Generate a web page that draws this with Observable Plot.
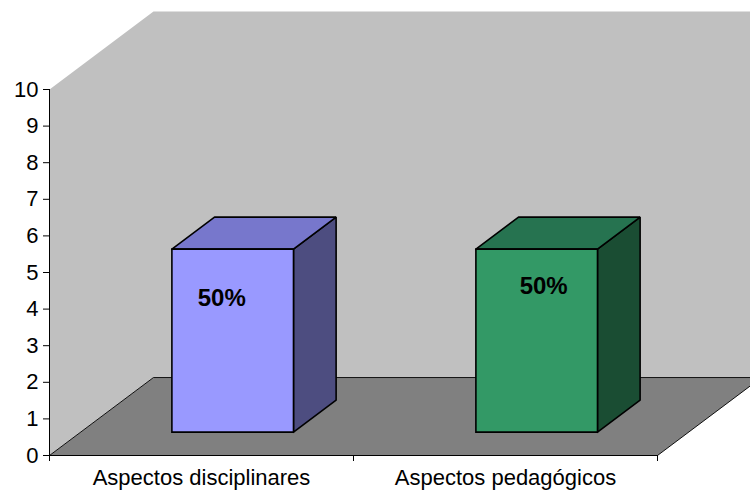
<!DOCTYPE html>
<html>
<head>
<meta charset="utf-8">
<script src="https://cdn.jsdelivr.net/npm/d3@7"></script>
<script src="https://cdn.jsdelivr.net/npm/@observablehq/plot@0.6"></script>
<style>
  html, body { margin: 0; padding: 0; background: #fff; }
  #chart svg { display: block; }
</style>
</head>
<body>
<div id="chart"></div>
<script>
// Chart data
const categories = ["Aspectos disciplinares", "Aspectos pedagógicos"];
const values = [5, 5];
const valueLabels = ["50%", "50%"];
const yTicks = [0, 1, 2, 3, 4, 5, 6, 7, 8, 9, 10];

// Colours of the walls, floor and the three visible faces of each box
const colors = {
  wall: "#c0c0c0",
  floor: "#808080",
  front: ["#9999ff", "#339966"],
  top: ["#7777cc", "#267350"],
  side: ["#4d4d80", "#1a4d33"]
};

// Oblique projection: moving through the full depth of the plot box
// shifts a point right by depthX (x units) and up by depthY (y units)
const depthX = 0.342;
const depthY = 2.13;
const barHalf = 0.2;            // half width of a box, in category units
const barZ0 = 0.3, barZ1 = 0.71; // front and back of the boxes, as depth fractions
const labelNudge = [{dx: -0.036, fy: 0.73}, {dx: 0.023, fy: 0.796}];
const font = '"Liberation Sans", Arial, sans-serif';

const n = categories.length;
const yTop = yTicks[yTicks.length - 1];

const proj = ([x, y, z]) => ({x: x + z * depthX, y: y + z * depthY});
const face = (pts, fill, stroke = "none", strokeWidth = 1) => {
  const p = pts.map(proj);
  p.push(p[0]);
  return Plot.line(p, {
    x: "x", y: "y", fill, stroke, strokeWidth,
    strokeLinejoin: "miter", strokeLinecap: "square", curve: "linear"
  });
};

// Side wall and back wall as one outline, then the floor
const walls = [
  face([[0, 0, 0], [0, yTop, 0], [0, yTop, 1], [n, yTop, 1], [n, 0, 1], [0, 0, 1]], colors.wall),
  face([[0, 0, 0], [n, 0, 0], [n, 0, 1], [0, 0, 1]], colors.floor, "#000", 0.9)
];

// One box per category: side, top, then front face
const boxes = values.flatMap((v, i) => {
  const x0 = i + 0.5 - barHalf, x1 = i + 0.5 + barHalf;
  return [
    face([[x1, 0, barZ0], [x1, 0, barZ1], [x1, v, barZ1], [x1, v, barZ0]], colors.side[i], "#000", 1.6),
    face([[x0, v, barZ0], [x1, v, barZ0], [x1, v, barZ1], [x0, v, barZ1]], colors.top[i], "#000", 1.6),
    face([[x0, 0, barZ0], [x1, 0, barZ0], [x1, v, barZ0], [x0, v, barZ0]], colors.front[i], "#000", 1.6)
  ];
});

const labelData = values.map((v, i) => ({
  x: i + 0.5 + labelNudge[i].dx + barZ0 * depthX,
  y: v * labelNudge[i].fy + barZ0 * depthY,
  text: valueLabels[i]
}));

const chart = Plot.plot({
  width: 750,
  height: 491,
  marginLeft: 49,
  marginRight: 93,
  marginTop: 89,
  marginBottom: 36,
  x: {type: "linear", domain: [0, n]},
  y: {type: "linear", domain: [0, yTop]},
  style: {fontFamily: font, fontSize: "22px", color: "#000", background: "#fff", overflow: "hidden"},
  marks: [
    ...walls,
    ...boxes,
    Plot.ruleX([0], {y1: 0, y2: yTop, stroke: "#000", strokeWidth: 1}),
    Plot.ruleY([0], {x1: 0, x2: n, stroke: "#000", strokeWidth: 1}),
    Plot.axisY(yTicks, {
      tickSize: 6, tickPadding: 5, fontSize: 22, label: null,
      tickFormat: d => String(d), stroke: "#000", fill: "#000"
    }),
    Plot.axisX(d3.range(n + 1), {
      tickSize: 6, tickFormat: () => "", label: null, stroke: "#000"
    }),
    Plot.axisX(d3.range(n).map(i => i + 0.5), {
      tickSize: 0, tickPadding: 14, fontSize: 22, label: null,
      tickFormat: d => categories[Math.floor(d)], fill: "#000"
    }),
    Plot.text(labelData, {
      x: "x", y: "y", text: "text",
      fontSize: 24, fontWeight: "bold", fill: "#000"
    })
  ]
});

document.getElementById("chart").appendChild(chart);
</script>
</body>
</html>
